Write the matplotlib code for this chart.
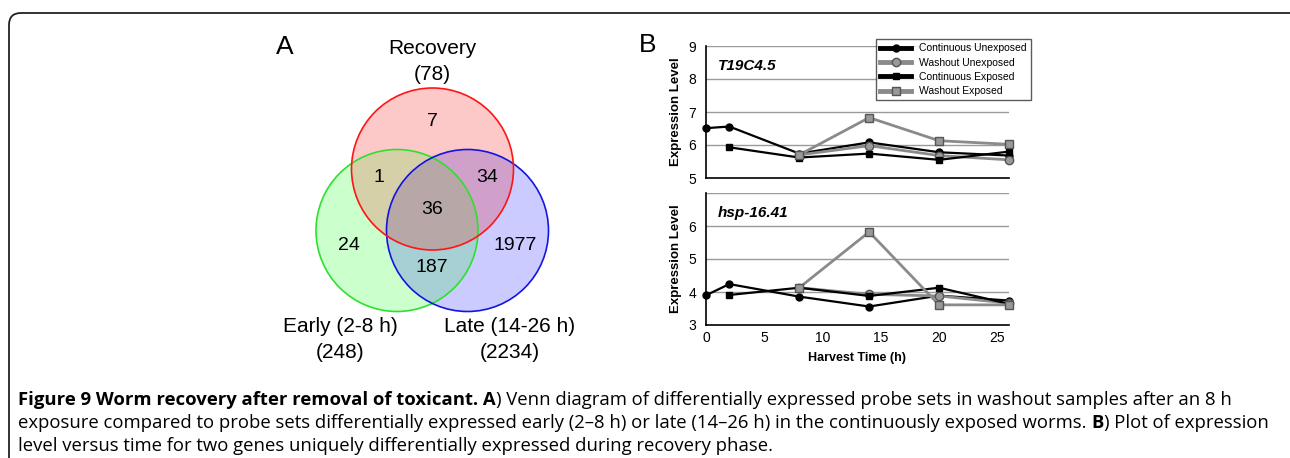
import numpy as np
import matplotlib
matplotlib.use("Agg")
import matplotlib.pyplot as plt
from matplotlib.patches import Circle, FancyBboxPatch
from matplotlib.lines import Line2D

plt.rcParams['font.family'] = ['Liberation Sans', 'DejaVu Sans']

# ---- data ----
nan = np.nan
times = [0, 2, 8, 14, 20, 26]
series_names = ['Continuous Unexposed', 'Washout Unexposed',
                'Continuous Exposed', 'Washout Exposed']

t19_cont_unexp = [6.51, 6.56, 5.74, 6.08, 5.78, 5.68]
t19_wash_unexp = [nan, nan, 5.70, 5.98, 5.68, 5.55]
t19_cont_exp = [nan, 5.93, 5.62, 5.74, 5.55, 5.80]
t19_wash_exp = [nan, nan, 5.70, 6.83, 6.13, 6.02]

hsp_cont_unexp = [3.90, 4.24, 3.86, 3.56, 3.89, 3.74]
hsp_wash_unexp = [nan, nan, 4.13, 3.93, 3.88, 3.66]
hsp_cont_exp = [nan, 3.91, 4.13, 3.88, 4.13, 3.64]
hsp_wash_exp = [nan, nan, 4.13, 5.82, 3.61, 3.61]

venn_sets = ['Recovery', 'Early (2-8 h)', 'Late (14-26 h)']
venn_totals = [78, 248, 2234]
# region counts keyed by membership (Recovery, Early, Late)
venn_counts = {'100': 7, '110': 1, '101': 34, '111': 36,
               '010': 24, '001': 1977, '011': 187}

W, H = 1290, 458
fig = plt.figure(figsize=(W / 100, H / 100), dpi=100)

# background axes in pixel coordinates
bg = fig.add_axes([0, 0, 1, 1])
bg.set_xlim(0, W)
bg.set_ylim(H, 0)
bg.axis('off')

# frame around the figure
frame = FancyBboxPatch((9, 13), 1400, 600, boxstyle='round,pad=0,rounding_size=12',
                       fc='none', ec='#222222', lw=1.3)
bg.add_patch(frame)

# ---- Venn diagram ----
centers = [(432.5, 169), (397, 230.5), (467.5, 230.5)]
radius = 81
fills = {'100': '#fcc8c8', '010': '#ccffcc', '001': '#ccccff',
         '110': '#d6d0a8', '101': '#d0a0cc', '011': '#a8d0d4', '111': '#b8a8a8'}
x0, x1, y0, y1 = 310, 556, 82, 318
xs = np.linspace(x0, x1, (x1 - x0) * 4)
ys = np.linspace(y0, y1, (y1 - y0) * 4)
gx, gy = np.meshgrid(xs, ys)
inside = [(gx - cx) ** 2 + (gy - cy) ** 2 <= radius ** 2 for cx, cy in centers]
img = np.ones(gx.shape + (4,))
img[..., 3] = 0
for key, col in fills.items():
    m = np.ones(gx.shape, bool)
    for k, ins in zip(key, inside):
        m &= ins if k == '1' else ~ins
    img[m] = matplotlib.colors.to_rgba(col)
bg.imshow(img, extent=(x0, x1, y1, y0), interpolation='bilinear', zorder=1)
bg.set_xlim(0, W)
bg.set_ylim(H, 0)

edge_cols = ['#ff1414', '#2ee02e', '#1414e0']
for i in [1, 2, 0]:
    bg.add_patch(Circle(centers[i], radius, fc='none', ec=edge_cols[i], lw=1.2, zorder=2))

count_pos = {'100': (432, 122), '110': (379, 178), '101': (487, 178), '111': (432, 210),
             '010': (349, 246), '001': (515, 246), '011': (432, 268)}
for key, n in venn_counts.items():
    bg.text(*count_pos[key], str(n), ha='center', va='center', fontsize=14, zorder=3)

set_label_pos = [(432, 48), (340, 326), (510, 326)]
for (x, y), name, tot in zip(set_label_pos, venn_sets, venn_totals):
    bg.text(x, y, name, ha='center', va='center', fontsize=15)
    bg.text(x, y + 26, '(%d)' % tot, ha='center', va='center', fontsize=15)

bg.text(285, 47, 'A', ha='center', va='center', fontsize=19)
bg.text(648, 45, 'B', ha='center', va='center', fontsize=19)

# ---- line panels ----
styles = [dict(color='black', marker='o', mfc='black', mec='black', lw=1.6, ms=5),
          dict(color='#8a8a8a', marker='o', mfc='#999999', mec='#555555', lw=2.0, ms=6),
          dict(color='black', marker='s', mfc='black', mec='black', lw=1.6, ms=5),
          dict(color='#8a8a8a', marker='s', mfc='#999999', mec='#555555', lw=2.0, ms=6)]


def make_panel(rect, data, ylim, yticks, gene):
    ax = fig.add_axes(rect)
    for vals, st in zip(data, styles):
        ax.plot(times, vals, zorder=3, clip_on=False, **st)
    ax.set_xlim(0, 26)
    ax.set_ylim(*ylim)
    ax.set_yticks(yticks)
    for g in range(ylim[0] + 1, ylim[1] + 1):
        ax.axhline(g, color='#9a9a9a', lw=1.0, zorder=1)
    for s in ['top', 'right']:
        ax.spines[s].set_visible(False)
    ax.spines['left'].set_linewidth(1.2)
    ax.spines['bottom'].set_linewidth(1.2)
    ax.tick_params(length=0, labelsize=10, pad=7)
    ax.set_ylabel('Expression Level', fontsize=9.5, fontweight='bold', labelpad=5)
    ax.text(0.04, 0.85, gene, transform=ax.transAxes, fontsize=11,
            fontweight='bold', style='italic', va='center')
    return ax


top = make_panel([706 / W, 1 - 178 / H, 303 / W, 132 / H],
                 [t19_cont_unexp, t19_wash_unexp, t19_cont_exp, t19_wash_exp],
                 (5, 9), [5, 6, 7, 8, 9], 'T19C4.5')
top.set_xticks([])

bot = make_panel([706 / W, 1 - 325 / H, 303 / W, 132 / H],
                 [hsp_cont_unexp, hsp_wash_unexp, hsp_cont_exp, hsp_wash_exp],
                 (3, 7), [3, 4, 5, 6], 'hsp-16.41')
bot.set_xticks([0, 5, 10, 15, 20, 25])
bot.tick_params(axis='x', pad=4)
bot.set_xlabel('Harvest Time (h)', fontsize=9, fontweight='bold', labelpad=5)

handles = [Line2D([], [], lw=3.5, **{k: v for k, v in st.items() if k != 'lw'})
           for st in styles]
leg = fig.legend(handles, series_names, loc='upper left',
                 bbox_to_anchor=(876 / W, 1 - 39 / H), fontsize=7.5, frameon=True,
                 fancybox=False, edgecolor='#333333', handlelength=3.0,
                 handletextpad=0.7, labelspacing=0.42, borderpad=0.4, borderaxespad=0)
leg.get_frame().set_linewidth(1.0)

# ---- caption ----
cap_font = ['Open Sans', 'DejaVu Sans']
cap_size = 13.3
lines = [
    [('Figure 9 Worm recovery after removal of toxicant. A', 'bold'),
     (') Venn diagram of differentially expressed probe sets in washout samples after an 8 h', 'normal')],
    [('exposure compared to probe sets differentially expressed early (2\u20138 h) or late (14\u201326 h) in the continuously exposed worms. ', 'normal'),
     ('B', 'bold'), (') Plot of expression', 'normal')],
    [('level versus time for two genes uniquely differentially expressed during recovery phase.', 'normal')],
]
line_y = [409, 432, 455]
for segs, y in zip(lines, line_y):
    prev = None
    for txt, wt in segs:
        if prev is None:
            prev = bg.annotate(txt, (18, y), xycoords='data', ha='left', va='bottom',
                               fontsize=cap_size, fontweight=wt, family=cap_font)
        else:
            prev = bg.annotate(txt, (1, 0), xycoords=prev, ha='left', va='bottom',
                               fontsize=cap_size, fontweight=wt, family=cap_font)

fig.savefig('out.png', dpi=100)
